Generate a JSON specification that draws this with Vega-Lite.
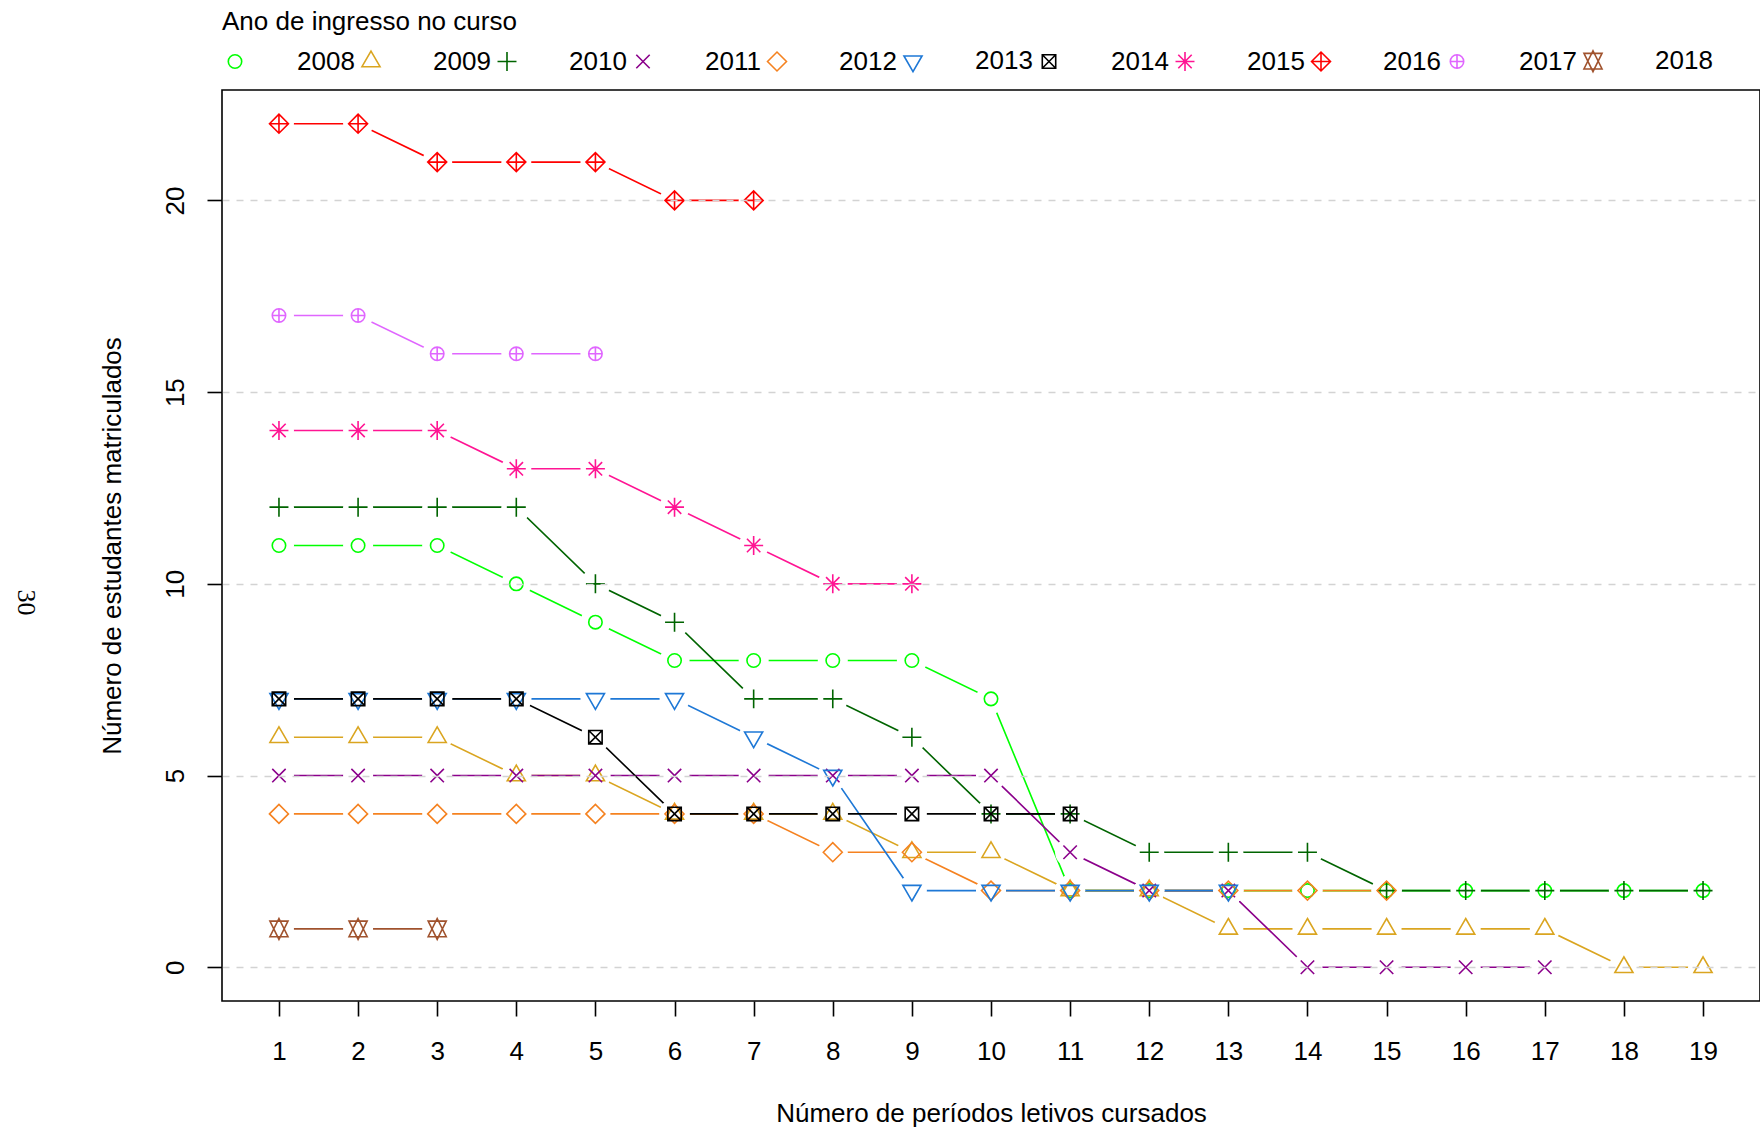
{
  "$schema": "https://vega.github.io/schema/vega-lite/v6.json",
  "width": 1538,
  "height": 911,
  "autosize": {"type": "none"},
  "padding": {"left": 222, "top": 90, "right": 0, "bottom": 127},
  "background": "white",
  "title": {
    "text": "30", "orient": "left", "anchor": "middle", "angle": 90, "baseline": "top",
    "font": "Liberation Serif", "fontSize": 26, "fontWeight": "normal", "color": "black",
    "offset": 34, "dx": 57
  },
  "data": {
    "values": [
      {"ano": "2008", "periodo": 1, "n": 11}, {"ano": "2008", "periodo": 2, "n": 11}, {"ano": "2008", "periodo": 3, "n": 11}, {"ano": "2008", "periodo": 4, "n": 10}, {"ano": "2008", "periodo": 5, "n": 9}, {"ano": "2008", "periodo": 6, "n": 8}, {"ano": "2008", "periodo": 7, "n": 8}, {"ano": "2008", "periodo": 8, "n": 8}, {"ano": "2008", "periodo": 9, "n": 8}, {"ano": "2008", "periodo": 10, "n": 7}, {"ano": "2008", "periodo": 11, "n": 2}, {"ano": "2008", "periodo": 12, "n": 2}, {"ano": "2008", "periodo": 13, "n": 2}, {"ano": "2008", "periodo": 14, "n": 2}, {"ano": "2008", "periodo": 15, "n": 2}, {"ano": "2008", "periodo": 16, "n": 2}, {"ano": "2008", "periodo": 17, "n": 2}, {"ano": "2008", "periodo": 18, "n": 2}, {"ano": "2008", "periodo": 19, "n": 2},
      {"ano": "2009", "periodo": 1, "n": 6}, {"ano": "2009", "periodo": 2, "n": 6}, {"ano": "2009", "periodo": 3, "n": 6}, {"ano": "2009", "periodo": 4, "n": 5}, {"ano": "2009", "periodo": 5, "n": 5}, {"ano": "2009", "periodo": 6, "n": 4}, {"ano": "2009", "periodo": 7, "n": 4}, {"ano": "2009", "periodo": 8, "n": 4}, {"ano": "2009", "periodo": 9, "n": 3}, {"ano": "2009", "periodo": 10, "n": 3}, {"ano": "2009", "periodo": 11, "n": 2}, {"ano": "2009", "periodo": 12, "n": 2}, {"ano": "2009", "periodo": 13, "n": 1}, {"ano": "2009", "periodo": 14, "n": 1}, {"ano": "2009", "periodo": 15, "n": 1}, {"ano": "2009", "periodo": 16, "n": 1}, {"ano": "2009", "periodo": 17, "n": 1}, {"ano": "2009", "periodo": 18, "n": 0}, {"ano": "2009", "periodo": 19, "n": 0},
      {"ano": "2010", "periodo": 1, "n": 12}, {"ano": "2010", "periodo": 2, "n": 12}, {"ano": "2010", "periodo": 3, "n": 12}, {"ano": "2010", "periodo": 4, "n": 12}, {"ano": "2010", "periodo": 5, "n": 10}, {"ano": "2010", "periodo": 6, "n": 9}, {"ano": "2010", "periodo": 7, "n": 7}, {"ano": "2010", "periodo": 8, "n": 7}, {"ano": "2010", "periodo": 9, "n": 6}, {"ano": "2010", "periodo": 10, "n": 4}, {"ano": "2010", "periodo": 11, "n": 4}, {"ano": "2010", "periodo": 12, "n": 3}, {"ano": "2010", "periodo": 13, "n": 3}, {"ano": "2010", "periodo": 14, "n": 3}, {"ano": "2010", "periodo": 15, "n": 2}, {"ano": "2010", "periodo": 16, "n": 2}, {"ano": "2010", "periodo": 17, "n": 2}, {"ano": "2010", "periodo": 18, "n": 2}, {"ano": "2010", "periodo": 19, "n": 2},
      {"ano": "2011", "periodo": 1, "n": 5}, {"ano": "2011", "periodo": 2, "n": 5}, {"ano": "2011", "periodo": 3, "n": 5}, {"ano": "2011", "periodo": 4, "n": 5}, {"ano": "2011", "periodo": 5, "n": 5}, {"ano": "2011", "periodo": 6, "n": 5}, {"ano": "2011", "periodo": 7, "n": 5}, {"ano": "2011", "periodo": 8, "n": 5}, {"ano": "2011", "periodo": 9, "n": 5}, {"ano": "2011", "periodo": 10, "n": 5}, {"ano": "2011", "periodo": 11, "n": 3}, {"ano": "2011", "periodo": 12, "n": 2}, {"ano": "2011", "periodo": 13, "n": 2}, {"ano": "2011", "periodo": 14, "n": 0}, {"ano": "2011", "periodo": 15, "n": 0}, {"ano": "2011", "periodo": 16, "n": 0}, {"ano": "2011", "periodo": 17, "n": 0},
      {"ano": "2012", "periodo": 1, "n": 4}, {"ano": "2012", "periodo": 2, "n": 4}, {"ano": "2012", "periodo": 3, "n": 4}, {"ano": "2012", "periodo": 4, "n": 4}, {"ano": "2012", "periodo": 5, "n": 4}, {"ano": "2012", "periodo": 6, "n": 4}, {"ano": "2012", "periodo": 7, "n": 4}, {"ano": "2012", "periodo": 8, "n": 3}, {"ano": "2012", "periodo": 9, "n": 3}, {"ano": "2012", "periodo": 10, "n": 2}, {"ano": "2012", "periodo": 11, "n": 2}, {"ano": "2012", "periodo": 12, "n": 2}, {"ano": "2012", "periodo": 13, "n": 2}, {"ano": "2012", "periodo": 14, "n": 2}, {"ano": "2012", "periodo": 15, "n": 2},
      {"ano": "2013", "periodo": 1, "n": 7}, {"ano": "2013", "periodo": 2, "n": 7}, {"ano": "2013", "periodo": 3, "n": 7}, {"ano": "2013", "periodo": 4, "n": 7}, {"ano": "2013", "periodo": 5, "n": 7}, {"ano": "2013", "periodo": 6, "n": 7}, {"ano": "2013", "periodo": 7, "n": 6}, {"ano": "2013", "periodo": 8, "n": 5}, {"ano": "2013", "periodo": 9, "n": 2}, {"ano": "2013", "periodo": 10, "n": 2}, {"ano": "2013", "periodo": 11, "n": 2}, {"ano": "2013", "periodo": 12, "n": 2}, {"ano": "2013", "periodo": 13, "n": 2},
      {"ano": "2014", "periodo": 1, "n": 7}, {"ano": "2014", "periodo": 2, "n": 7}, {"ano": "2014", "periodo": 3, "n": 7}, {"ano": "2014", "periodo": 4, "n": 7}, {"ano": "2014", "periodo": 5, "n": 6}, {"ano": "2014", "periodo": 6, "n": 4}, {"ano": "2014", "periodo": 7, "n": 4}, {"ano": "2014", "periodo": 8, "n": 4}, {"ano": "2014", "periodo": 9, "n": 4}, {"ano": "2014", "periodo": 10, "n": 4}, {"ano": "2014", "periodo": 11, "n": 4},
      {"ano": "2015", "periodo": 1, "n": 14}, {"ano": "2015", "periodo": 2, "n": 14}, {"ano": "2015", "periodo": 3, "n": 14}, {"ano": "2015", "periodo": 4, "n": 13}, {"ano": "2015", "periodo": 5, "n": 13}, {"ano": "2015", "periodo": 6, "n": 12}, {"ano": "2015", "periodo": 7, "n": 11}, {"ano": "2015", "periodo": 8, "n": 10}, {"ano": "2015", "periodo": 9, "n": 10},
      {"ano": "2016", "periodo": 1, "n": 22}, {"ano": "2016", "periodo": 2, "n": 22}, {"ano": "2016", "periodo": 3, "n": 21}, {"ano": "2016", "periodo": 4, "n": 21}, {"ano": "2016", "periodo": 5, "n": 21}, {"ano": "2016", "periodo": 6, "n": 20}, {"ano": "2016", "periodo": 7, "n": 20},
      {"ano": "2017", "periodo": 1, "n": 17}, {"ano": "2017", "periodo": 2, "n": 17}, {"ano": "2017", "periodo": 3, "n": 16}, {"ano": "2017", "periodo": 4, "n": 16}, {"ano": "2017", "periodo": 5, "n": 16},
      {"ano": "2018", "periodo": 1, "n": 1}, {"ano": "2018", "periodo": 2, "n": 1}, {"ano": "2018", "periodo": 3, "n": 1}
    ]
  },
  "encoding": {
    "x": {
      "field": "periodo", "type": "quantitative",
      "scale": {"domain": [0.28, 19.72], "nice": false, "zero": false},
      "axis": {
        "title": "Número de períodos letivos cursados",
        "values": [1, 2, 3, 4, 5, 6, 7, 8, 9, 10, 11, 12, 13, 14, 15, 16, 17, 18, 19],
        "format": "d", "grid": false, "domain": false,
        "tickSize": 15, "labelPadding": 22, "titlePadding": 36,
        "labelFlush": false, "labelOverlap": false
      }
    },
    "y": {
      "field": "n", "type": "quantitative",
      "scale": {"domain": [-0.88, 22.88], "nice": false, "zero": false},
      "axis": {
        "title": "Número de estudantes matriculados",
        "values": [0, 5, 10, 15, 20],
        "format": "d", "grid": true, "gridDash": [7, 7], "gridColor": "#D3D3D3", "gridWidth": 1.5,
        "zindex": 1, "domain": false,
        "tickSize": 15, "labelAngle": 270, "labelAlign": "center", "labelBaseline": "alphabetic",
        "labelPadding": 24, "titlePadding": 37, "labelFlush": false, "labelOverlap": false
      }
    }
  },
  "layer": [
    {
      "mark": {"type": "line", "strokeWidth": 1.6},
      "encoding": {
        "color": {
          "field": "ano", "type": "nominal", "title": "Ano de ingresso no curso",
          "scale": {
            "domain": ["2008", "2009", "2010", "2011", "2012", "2013", "2014", "2015", "2016", "2017", "2018"],
            "range": ["#00FF00", "#DAA520", "#006400", "#8B008B", "#F58220", "#1E78D6", "#000000", "#FF1493", "#FF0000", "#E066FF", "#A0522D"]
          }
        },
        "order": {"field": "periodo"}
      }
    },
    {
      "mark": {"type": "point", "shape": "circle", "filled": true, "color": "white", "strokeWidth": 0, "size": 900, "opacity": 1}
    },
    {
      "mark": {"type": "point", "filled": false, "size": 180, "strokeWidth": 1.6, "opacity": 1},
      "encoding": {
        "color": {"field": "ano", "type": "nominal", "title": "Ano de ingresso no curso"},
        "shape": {
          "field": "ano", "type": "nominal", "title": "Ano de ingresso no curso",
          "scale": {
            "domain": ["2008", "2009", "2010", "2011", "2012", "2013", "2014", "2015", "2016", "2017", "2018"],
            "range": [
              "M1,0A1,1 0 1,1 -1,0A1,1 0 1,1 1,0Z",
              "M0,-1.555L1.347,0.778L-1.347,0.778Z",
              "M-1.414,0H1.414M0,-1.414V1.414",
              "M-1,-1L1,1M-1,1L1,-1",
              "M-1.414,0L0,-1.414L1.414,0L0,1.414Z",
              "M0,1.555L1.347,-0.778L-1.347,-0.778Z",
              "M-1,-1H1V1H-1ZM-1,-1L1,1M-1,1L1,-1",
              "M-1,-1L1,1M-1,1L1,-1M-1.414,0H1.414M0,-1.414V1.414",
              "M-1.414,0L0,-1.414L1.414,0L0,1.414ZM-1.414,0H1.414M0,-1.414V1.414",
              "M1,0A1,1 0 1,1 -1,0A1,1 0 1,1 1,0ZM-1,0H1M0,-1V1",
              "M0,1.555L1.347,-1.166L-1.347,-1.166ZM0,-1.555L1.347,1.166L-1.347,1.166Z"
            ]
          }
        }
      }
    }
  ],
  "config": {
    "font": "Liberation Sans",
    "view": {"stroke": "black", "strokeWidth": 1.6},
    "axis": {
      "labelFont": "Liberation Sans", "titleFont": "Liberation Sans",
      "labelColor": "black", "titleColor": "black", "tickColor": "black",
      "labelFontSize": 26, "titleFontSize": 26, "titleFontWeight": "normal", "tickWidth": 1.6
    },
    "legend": {
      "orient": "top", "direction": "horizontal", "columns": 11,
      "titleFontSize": 26, "titleFontWeight": "normal", "titleColor": "black", "titleFont": "Liberation Sans",
      "titleLimit": 1000, "labelLimit": 1000,
      "titlePadding": 13, "labelFontSize": 26, "labelColor": "black", "labelFont": "Liberation Sans",
      "labelOffset": 49, "columnPadding": 3, "symbolStrokeWidth": 1.6, "symbolSize": 180,
      "offset": 15, "padding": 0
    }
  }
}
